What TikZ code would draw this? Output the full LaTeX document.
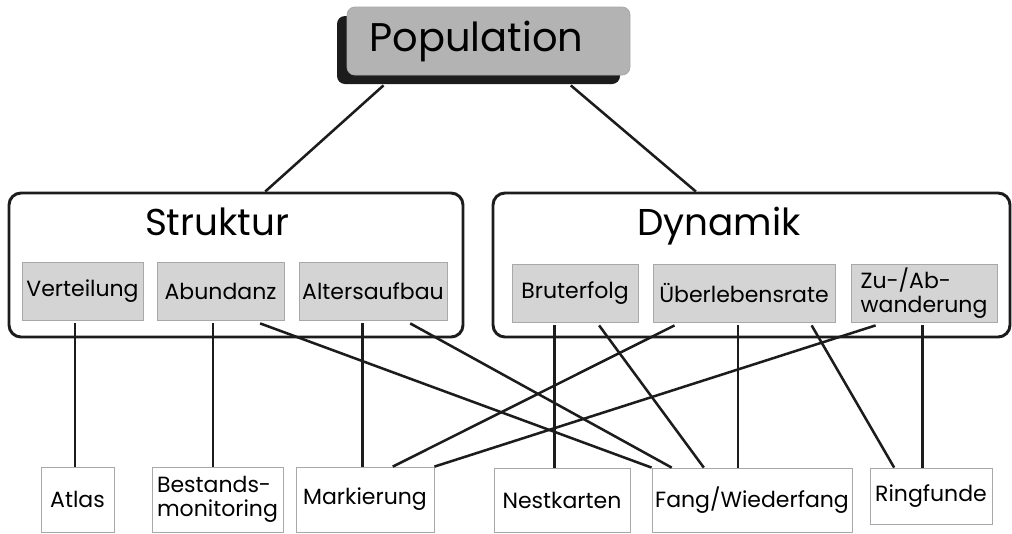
\documentclass[tikz,border=0pt]{standalone}
\usepackage{fontspec}
\setmainfont{Poppins}
\usetikzlibrary{calc,shadows}
\definecolor{popgray}{RGB}{179,179,179}
\definecolor{boxgray}{RGB}{212,212,212}
\definecolor{edgegray}{RGB}{168,168,168}
\definecolor{lineblk}{RGB}{28,28,28}

\begin{document}
\begin{tikzpicture}[x=0.75pt,y=-0.75pt,
  wh/.style 2 args={minimum width=#1*0.75pt,minimum height=#2*0.75pt},
  popbox/.style={draw=edgegray,line width=0.6pt,fill=popgray,rounded corners=6pt,inner sep=0pt,
    drop shadow={shadow xshift=-7.5pt,shadow yshift=-6.75pt,fill=lineblk,opacity=1},
    font=\fontsize{30}{34}\selectfont},
  groupbox/.style={draw=lineblk,line width=2.2pt,rounded corners=9pt,inner sep=0pt},
  title/.style={font=\fontsize{28}{32}\selectfont,anchor=base,inner sep=0pt},
  itembox/.style={draw=edgegray,line width=0.6pt,fill=boxgray,inner sep=0pt,
    font=\fontsize{16.5}{17.5}\selectfont},
  methbox/.style={draw=edgegray,line width=0.6pt,fill=white,inner sep=0pt,
    font=\fontsize{16.5}{18}\selectfont},
  link/.style={draw=lineblk,line width=1.9pt}]
  \useasboundingbox (0,0) rectangle (1012,533);

  % top node and the two groups
  \node[popbox,wh={283}{68}] (pop) at (488.5,41) {Population\hspace*{18pt}};
  \node[groupbox,wh={454}{144}] (struk) at (236,265) {};
  \node[groupbox,wh={517}{144}] (dyn) at (751.5,265) {};
  \node[title] (struktitle) at (217,235) {Struktur};
  \node[title] (dyntitle) at (719,235) {Dynamik};

  % parameters (grey)
  \node[itembox,wh={121}{58}] (vert) at (82.5,291) {Verteilung};
  \node[itembox,wh={127}{58}] (abund) at (220.5,291) {Abundanz};
  \node[itembox,wh={148}{58}] (alter) at (373,291) {Altersaufbau};
  \node[itembox,wh={126}{58}] (brut) at (575,293) {Bruterfolg};
  \node[itembox,wh={182}{58}] (ueber) at (744,293) {Überlebensrate};
  \node[itembox,wh={146}{58},align=left] (zuab) at (924,293) {Zu-/Ab-\\wanderung};

  % methods (white)
  \node[methbox,wh={73}{65}] (atlas) at (77.5,499.5) {Atlas};
  \node[methbox,wh={131}{65},align=left] (bestand) at (217.5,499.5) {Bestands-\\monitoring};
  \node[methbox,wh={138}{65}] (mark) at (365,499.5) {Markierung};
  \node[methbox,wh={136}{64}] (nest) at (562,500) {Nestkarten};
  \node[methbox,wh={200}{64}] (fang) at (752,500) {Fang/Wiederfang};
  \node[methbox,wh={122}{56}] (ring) at (931,496) {Ringfunde};

  % population -> groups
  \draw[link] ($(pop.south west)!.13!(pop.south east)+(0,10)$) -- ($(struk.north west)!.564!(struk.north east)$);
  \draw[link] ($(pop.south west)!.79!(pop.south east)+(0,10)$) -- ($(dyn.north west)!.393!(dyn.north east)$);

  % straight down
  \foreach \a/\f/\b in {vert/.44/atlas, abund/.44/bestand, alter/.43/mark,
                        brut/.34/nest, ueber/.466/fang, zuab/.49/ring} {
    \draw[link] ($(\a.south west)!\f!(\a.south east)+(0,3)$) coordinate (s) -- (s |- \b.north);
  }

  % crossing links
  \foreach \a/\f/\b/\g in {abund/.81/fang/0, alter/.75/fang/.1, brut/.69/fang/.26,
                           ueber/.12/mark/.7, ueber/.87/ring/.2, zuab/.17/mark/1} {
    \draw[link] ($(\a.south west)!\f!(\a.south east)+(0,3)$) -- ($(\b.north west)!\g!(\b.north east)$);
  }
\end{tikzpicture}
\end{document}
